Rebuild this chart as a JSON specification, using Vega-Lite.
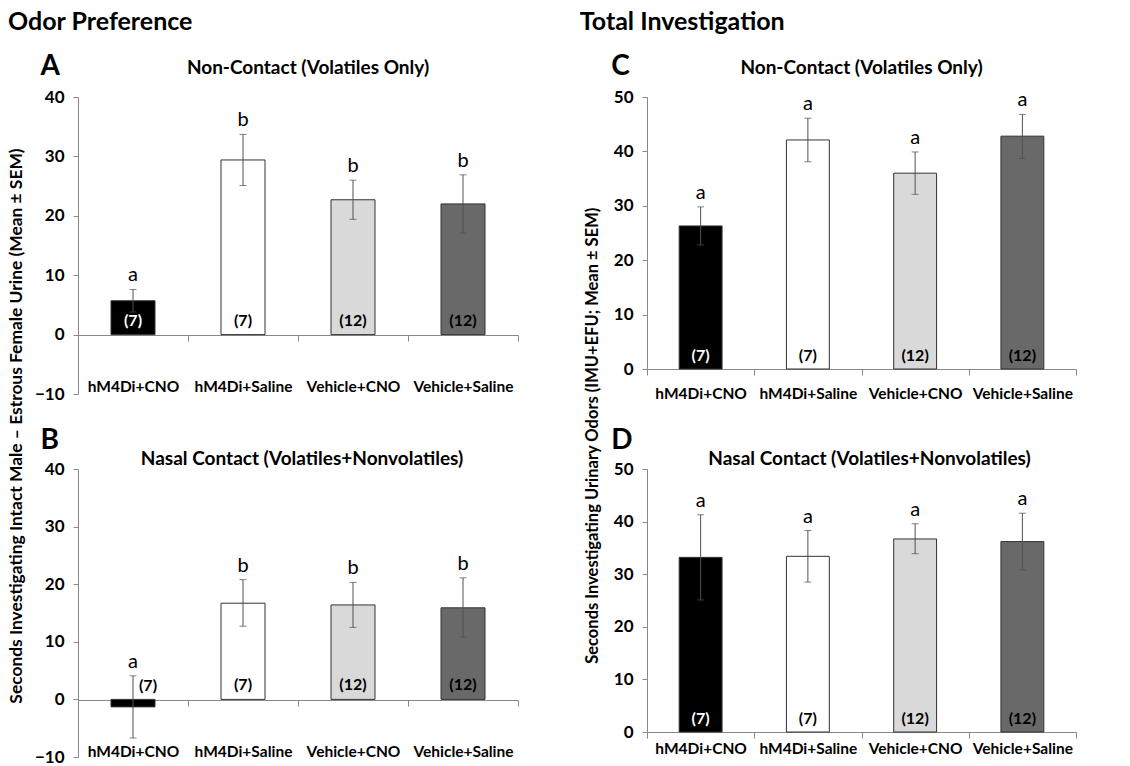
{
  "$schema": "https://vega.github.io/schema/vega-lite/v6.json",
  "padding": {"left": 8, "top": 10, "right": 0, "bottom": 0},
  "background": "white",
  "config": {
    "font": "Lato",
    "view": {"stroke": null},
    "title": {"font": "Lato", "fontWeight": "bold", "color": "#000"},
    "axis": {"labelFont": "Lato", "labelColor": "#000", "labelFontWeight": "bold", "domainColor": "#888", "tickColor": "#888", "grid": false, "title": null}
  },
  "datasets": {
    "A": [
      {"group": "hM4Di+CNO", "mean": 5.7, "lo": 3.8, "hi": 7.6, "letter": "a", "n": "(7)"},
      {"group": "hM4Di+Saline", "mean": 29.4, "lo": 25.1, "hi": 33.7, "letter": "b", "n": "(7)"},
      {"group": "Vehicle+CNO", "mean": 22.7, "lo": 19.4, "hi": 26.0, "letter": "b", "n": "(12)"},
      {"group": "Vehicle+Saline", "mean": 22.0, "lo": 17.1, "hi": 26.9, "letter": "b", "n": "(12)"}
    ],
    "B": [
      {"group": "hM4Di+CNO", "mean": -1.3, "lo": -6.7, "hi": 4.1, "letter": "a", "n": "(7)"},
      {"group": "hM4Di+Saline", "mean": 16.7, "lo": 12.7, "hi": 20.8, "letter": "b", "n": "(7)"},
      {"group": "Vehicle+CNO", "mean": 16.4, "lo": 12.5, "hi": 20.3, "letter": "b", "n": "(12)"},
      {"group": "Vehicle+Saline", "mean": 15.9, "lo": 10.8, "hi": 21.1, "letter": "b", "n": "(12)"}
    ],
    "C": [
      {"group": "hM4Di+CNO", "mean": 26.3, "lo": 22.8, "hi": 29.8, "letter": "a", "n": "(7)"},
      {"group": "hM4Di+Saline", "mean": 42.1, "lo": 38.1, "hi": 46.1, "letter": "a", "n": "(7)"},
      {"group": "Vehicle+CNO", "mean": 36.0, "lo": 32.1, "hi": 39.9, "letter": "a", "n": "(12)"},
      {"group": "Vehicle+Saline", "mean": 42.8, "lo": 38.7, "hi": 46.8, "letter": "a", "n": "(12)"}
    ],
    "D": [
      {"group": "hM4Di+CNO", "mean": 33.2, "lo": 25.1, "hi": 41.3, "letter": "a", "n": "(7)"},
      {"group": "hM4Di+Saline", "mean": 33.4, "lo": 28.5, "hi": 38.3, "letter": "a", "n": "(7)"},
      {"group": "Vehicle+CNO", "mean": 36.7, "lo": 33.9, "hi": 39.6, "letter": "a", "n": "(12)"},
      {"group": "Vehicle+Saline", "mean": 36.2, "lo": 30.8, "hi": 41.6, "letter": "a", "n": "(12)"}
    ]
  },
  "spacing": 60,
  "hconcat": [
    {
      "title": {"text": "Odor Preference", "anchor": "start", "fontSize": 25, "offset": 18},
      "vconcat": [
        {
          "title": {"text": "Seconds Investigating Intact Male – Estrous Female Urine (Mean ± SEM)", "orient": "left", "anchor": "middle", "fontSize": 17.4, "offset": 9, "dx": -17},
          "spacing": 25,
          "vconcat": [
            {
              "title": {"text": "A", "anchor": "start", "fontSize": 28, "offset": -22, "dx": 6},
              "vconcat": [
                {
                  "width": 440, "height": 297,
                  "title": {"text": "Non-Contact (Volatiles Only)", "fontSize": 19, "offset": 10, "dx": 10},
                  "data": {"name": "A"},
                  "encoding": {
                    "x": {"field": "group", "type": "nominal", "sort": null, "scale": {"paddingInner": 0, "paddingOuter": 0},
                      "axis": {"labelAngle": 0, "labelFontSize": 15.5, "tickBand": "extent", "tickSize": 6, "offset": -59, "labelPadding": 38}}
                  },
                  "layer": [
                    {"mark": {"type": "bar", "width": {"band": 0.4}, "stroke": "#333333", "strokeWidth": 1},
                     "encoding": {
                       "y": {"field": "mean", "type": "quantitative", "scale": {"domain": [-10, 40], "nice": false},
                         "axis": {"values": [-10, 0, 10, 20, 30, 40], "labelFontSize": 17, "tickSize": 5, "labelPadding": 9}},
                       "fill": {"field": "group", "type": "nominal", "legend": null,
                         "scale": {"domain": ["hM4Di+CNO", "hM4Di+Saline", "Vehicle+CNO", "Vehicle+Saline"], "range": ["#000000", "#ffffff", "#d9d9d9", "#696969"]}}
                     }},
                    {"mark": {"type": "rule", "color": "#505050"}, "encoding": {"y": {"field": "lo", "type": "quantitative"}, "y2": {"field": "hi"}}},
                    {"mark": {"type": "tick", "size": 7, "thickness": 1, "color": "#505050"}, "encoding": {"y": {"field": "hi", "type": "quantitative"}}},
                    {"mark": {"type": "tick", "size": 7, "thickness": 1, "color": "#505050"}, "encoding": {"y": {"field": "lo", "type": "quantitative"}}},
                    {"mark": {"type": "text", "baseline": "alphabetic", "dy": -8, "fontSize": 20, "fontWeight": "normal"}, "encoding": {"y": {"field": "hi", "type": "quantitative"}, "text": {"field": "letter"}}},
                    {"mark": {"type": "text", "baseline": "middle", "dy": -14, "fontSize": 16, "fontWeight": "bold"},
                     "encoding": {"y": {"datum": 0}, "text": {"field": "n"},
                       "color": {"condition": {"test": "datum.group == 'hM4Di+CNO'", "value": "#ffffff"}, "value": "#000000"}}}
                  ]
                }
              ]
            },
            {
              "title": {"text": "B", "anchor": "start", "fontSize": 28, "offset": -5, "dx": 6},
              "vconcat": [
                {
                  "width": 440, "height": 288,
                  "title": {"text": "Nasal Contact (Volatiles+Nonvolatiles)", "fontSize": 19, "offset": -9, "dx": 4},
                  "data": {"name": "B"},
                  "encoding": {
                    "x": {"field": "group", "type": "nominal", "sort": null, "scale": {"paddingInner": 0, "paddingOuter": 0},
                      "axis": {"labelAngle": 0, "labelFontSize": 15.5, "tickBand": "extent", "tickSize": 6, "offset": -57, "labelPadding": 38}}
                  },
                  "layer": [
                    {"mark": {"type": "bar", "width": {"band": 0.4}, "stroke": "#333333", "strokeWidth": 1},
                     "encoding": {
                       "y": {"field": "mean", "type": "quantitative", "scale": {"domain": [-10, 40], "nice": false},
                         "axis": {"values": [-10, 0, 10, 20, 30, 40], "labelFontSize": 17, "tickSize": 5, "labelPadding": 9}},
                       "fill": {"field": "group", "type": "nominal", "legend": null,
                         "scale": {"domain": ["hM4Di+CNO", "hM4Di+Saline", "Vehicle+CNO", "Vehicle+Saline"], "range": ["#000000", "#ffffff", "#d9d9d9", "#696969"]}}
                     }},
                    {"mark": {"type": "rule", "color": "#505050"}, "encoding": {"y": {"field": "lo", "type": "quantitative"}, "y2": {"field": "hi"}}},
                    {"mark": {"type": "tick", "size": 7, "thickness": 1, "color": "#505050"}, "encoding": {"y": {"field": "hi", "type": "quantitative"}}},
                    {"mark": {"type": "tick", "size": 7, "thickness": 1, "color": "#505050"}, "encoding": {"y": {"field": "lo", "type": "quantitative"}}},
                    {"mark": {"type": "text", "baseline": "alphabetic", "dy": -8, "fontSize": 20, "fontWeight": "normal"}, "encoding": {"y": {"field": "hi", "type": "quantitative"}, "text": {"field": "letter"}}},
                    {"transform": [{"filter": "datum.mean > 0"}],
                     "mark": {"type": "text", "baseline": "middle", "dy": -14, "fontSize": 16, "fontWeight": "bold", "color": "#000"},
                     "encoding": {"y": {"datum": 0}, "text": {"field": "n"}}},
                    {"transform": [{"filter": "datum.mean <= 0"}],
                     "mark": {"type": "text", "baseline": "middle", "dy": -13, "dx": 15, "fontSize": 16, "fontWeight": "bold", "color": "#000"},
                     "encoding": {"y": {"datum": 0}, "text": {"field": "n"}}}
                  ]
                }
              ]
            }
          ]
        }
      ]
    },
    {
      "title": {"text": "Total Investigation", "anchor": "start", "fontSize": 25, "offset": 18, "dx": -5},
      "vconcat": [
        {
          "title": {"text": "Seconds Investigating Urinary Odors (IMU+EFU; Mean ± SEM)", "orient": "left", "anchor": "middle", "fontSize": 16.5, "offset": 10, "dx": -31},
          "spacing": 25,
          "vconcat": [
            {
              "title": {"text": "C", "anchor": "start", "fontSize": 28, "offset": -22, "dx": -2},
              "vconcat": [
                {
                  "width": 429, "height": 272,
                  "title": {"text": "Non-Contact (Volatiles Only)", "fontSize": 19, "offset": 10},
                  "data": {"name": "C"},
                  "encoding": {
                    "x": {"field": "group", "type": "nominal", "sort": null, "scale": {"paddingInner": 0, "paddingOuter": 0},
                      "axis": {"labelAngle": 0, "labelFontSize": 15.5, "tickBand": "extent", "tickSize": 6, "labelPadding": 11}}
                  },
                  "layer": [
                    {"mark": {"type": "bar", "width": {"band": 0.4}, "stroke": "#333333", "strokeWidth": 1},
                     "encoding": {
                       "y": {"field": "mean", "type": "quantitative", "scale": {"domain": [0, 50], "nice": false},
                         "axis": {"values": [0, 10, 20, 30, 40, 50], "labelFontSize": 17, "tickSize": 5, "labelPadding": 9}},
                       "fill": {"field": "group", "type": "nominal", "legend": null,
                         "scale": {"domain": ["hM4Di+CNO", "hM4Di+Saline", "Vehicle+CNO", "Vehicle+Saline"], "range": ["#000000", "#ffffff", "#d9d9d9", "#696969"]}}
                     }},
                    {"mark": {"type": "rule", "color": "#505050"}, "encoding": {"y": {"field": "lo", "type": "quantitative"}, "y2": {"field": "hi"}}},
                    {"mark": {"type": "tick", "size": 7, "thickness": 1, "color": "#505050"}, "encoding": {"y": {"field": "hi", "type": "quantitative"}}},
                    {"mark": {"type": "tick", "size": 7, "thickness": 1, "color": "#505050"}, "encoding": {"y": {"field": "lo", "type": "quantitative"}}},
                    {"mark": {"type": "text", "baseline": "alphabetic", "dy": -8, "fontSize": 20, "fontWeight": "normal"}, "encoding": {"y": {"field": "hi", "type": "quantitative"}, "text": {"field": "letter"}}},
                    {"mark": {"type": "text", "baseline": "middle", "dy": -13, "fontSize": 16, "fontWeight": "bold"},
                     "encoding": {"y": {"datum": 0}, "text": {"field": "n"},
                       "color": {"condition": {"test": "datum.group == 'hM4Di+CNO'", "value": "#ffffff"}, "value": "#000000"}}}
                  ]
                }
              ]
            },
            {
              "title": {"text": "D", "anchor": "start", "fontSize": 28, "offset": -5, "dx": -2},
              "vconcat": [
                {
                  "width": 429, "height": 263,
                  "title": {"text": "Nasal Contact (Volatiles+Nonvolatiles)", "fontSize": 19, "offset": -9, "dx": 8},
                  "data": {"name": "D"},
                  "encoding": {
                    "x": {"field": "group", "type": "nominal", "sort": null, "scale": {"paddingInner": 0, "paddingOuter": 0},
                      "axis": {"labelAngle": 0, "labelFontSize": 15.5, "tickBand": "extent", "tickSize": 6, "labelPadding": 3}}
                  },
                  "layer": [
                    {"mark": {"type": "bar", "width": {"band": 0.4}, "stroke": "#333333", "strokeWidth": 1},
                     "encoding": {
                       "y": {"field": "mean", "type": "quantitative", "scale": {"domain": [0, 50], "nice": false},
                         "axis": {"values": [0, 10, 20, 30, 40, 50], "labelFontSize": 17, "tickSize": 5, "labelPadding": 9}},
                       "fill": {"field": "group", "type": "nominal", "legend": null,
                         "scale": {"domain": ["hM4Di+CNO", "hM4Di+Saline", "Vehicle+CNO", "Vehicle+Saline"], "range": ["#000000", "#ffffff", "#d9d9d9", "#696969"]}}
                     }},
                    {"mark": {"type": "rule", "color": "#505050"}, "encoding": {"y": {"field": "lo", "type": "quantitative"}, "y2": {"field": "hi"}}},
                    {"mark": {"type": "tick", "size": 7, "thickness": 1, "color": "#505050"}, "encoding": {"y": {"field": "hi", "type": "quantitative"}}},
                    {"mark": {"type": "tick", "size": 7, "thickness": 1, "color": "#505050"}, "encoding": {"y": {"field": "lo", "type": "quantitative"}}},
                    {"mark": {"type": "text", "baseline": "alphabetic", "dy": -8, "fontSize": 20, "fontWeight": "normal"}, "encoding": {"y": {"field": "hi", "type": "quantitative"}, "text": {"field": "letter"}}},
                    {"mark": {"type": "text", "baseline": "middle", "dy": -13, "fontSize": 16, "fontWeight": "bold"},
                     "encoding": {"y": {"datum": 0}, "text": {"field": "n"},
                       "color": {"condition": {"test": "datum.group == 'hM4Di+CNO'", "value": "#ffffff"}, "value": "#000000"}}}
                  ]
                }
              ]
            }
          ]
        }
      ]
    }
  ]
}
